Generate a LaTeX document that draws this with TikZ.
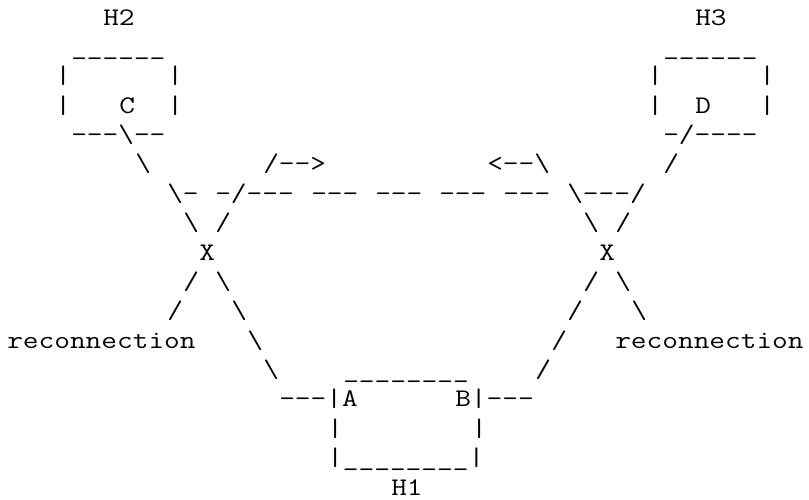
\documentclass[tikz,border=0pt]{standalone}
\usepackage{fontspec}
\newfontfamily\asciifont[FakeStretch=1.203]{Latin Modern Mono}
\begin{document}
\begin{tikzpicture}[x=12pt, y=-22.03125pt,
  ascii/.style={anchor=base west, inner sep=0pt,
    font=\asciifont\fontsize{19pt}{22pt}\selectfont}]
\useasboundingbox (-0.4375,-0.851) rectangle (50.125,16.136);

% Rechner H2 und H3
\node[ascii] (h2) at (6,0) {H2};
\node[ascii] (h3) at (43,0) {H3};
\node[ascii] (h2top) at (4,1) {\_\_\_\_\_\_};
\node[ascii] (h3top) at (41,1) {\_\_\_\_\_\_};
\node[ascii] (h2la) at (3,2) {|};
\node[ascii] (h2ra) at (10,2) {|};
\node[ascii] (h3la) at (40,2) {|};
\node[ascii] (h3ra) at (47,2) {|};
\node[ascii] (h2lb) at (3,3) {|};
\node[ascii] (c) at (7,3) {C};
\node[ascii] (h2rb) at (10,3) {|};
\node[ascii] (h3lb) at (40,3) {|};
\node[ascii] (d) at (43,3) {D};
\node[ascii] (h3rb) at (47,3) {|};
\node[ascii] (h2bot) at (4,4) {-{}-{}-\textbackslash-{}-};
\node[ascii] (h3bot) at (41,4) {-/-{}-{}-{}-};

% Verbindungen oben
\node[ascii] (lnkCa) at (8,5) {\textbackslash};
\node[ascii] (arrR) at (16,5) {/-{}->};
\node[ascii] (arrL) at (30,5) {<-{}-\textbackslash};
\node[ascii] (lnkDa) at (41,5) {/};
\node[ascii] (lnkCb) at (10,6) {\textbackslash-};
\node[ascii] (pathA) at (13,6) {-/-{}-{}-};
\node[ascii] (pathB) at (19,6) {-{}-{}-};
\node[ascii] (pathC) at (23,6) {-{}-{}-};
\node[ascii] (pathD) at (27,6) {-{}-{}-};
\node[ascii] (pathE) at (31,6) {-{}-{}-};
\node[ascii] (pathF) at (35,6) {\textbackslash-{}-{}-/};
\node[ascii] (xlul) at (11,7) {\textbackslash};
\node[ascii] (xlur) at (13,7) {/};
\node[ascii] (xrul) at (36,7) {\textbackslash};
\node[ascii] (xrur) at (38,7) {/};

% Kreuzungen
\node[ascii] (xl) at (12,8) {X};
\node[ascii] (xr) at (37,8) {X};

% Verbindungen unten
\node[ascii] (xlla) at (11,9) {/};
\node[ascii] (xlra) at (13,9) {\textbackslash};
\node[ascii] (xrla) at (36,9) {/};
\node[ascii] (xrra) at (38,9) {\textbackslash};
\node[ascii] (xllb) at (10,10) {/};
\node[ascii] (xlrb) at (14,10) {\textbackslash};
\node[ascii] (xrlb) at (35,10) {/};
\node[ascii] (xrrb) at (39,10) {\textbackslash};
\node[ascii] (reconL) at (0,11) {reconnection};
\node[ascii] (xlrc) at (15,11) {\textbackslash};
\node[ascii] (xrlc) at (34,11) {/};
\node[ascii] (reconR) at (38,11) {reconnection};
\node[ascii] (xlrd) at (16,12) {\textbackslash};
\node[ascii] (xrld) at (33,12) {/};

% Rechner H1
\node[ascii] (h1top) at (21,12) {\_\_\_\_\_\_\_\_};
\node[ascii] (a) at (17,13) {-{}-{}-|A};
\node[ascii] (b) at (28,13) {B|-{}-{}-};
\node[ascii] (h1l) at (20,14) {|};
\node[ascii] (h1r) at (29,14) {|};
\node[ascii] (h1bot) at (20,15) {|\_\_\_\_\_\_\_\_|};
\node[ascii] (h1) at (24,16) {H1};

\end{tikzpicture}
\end{document}
